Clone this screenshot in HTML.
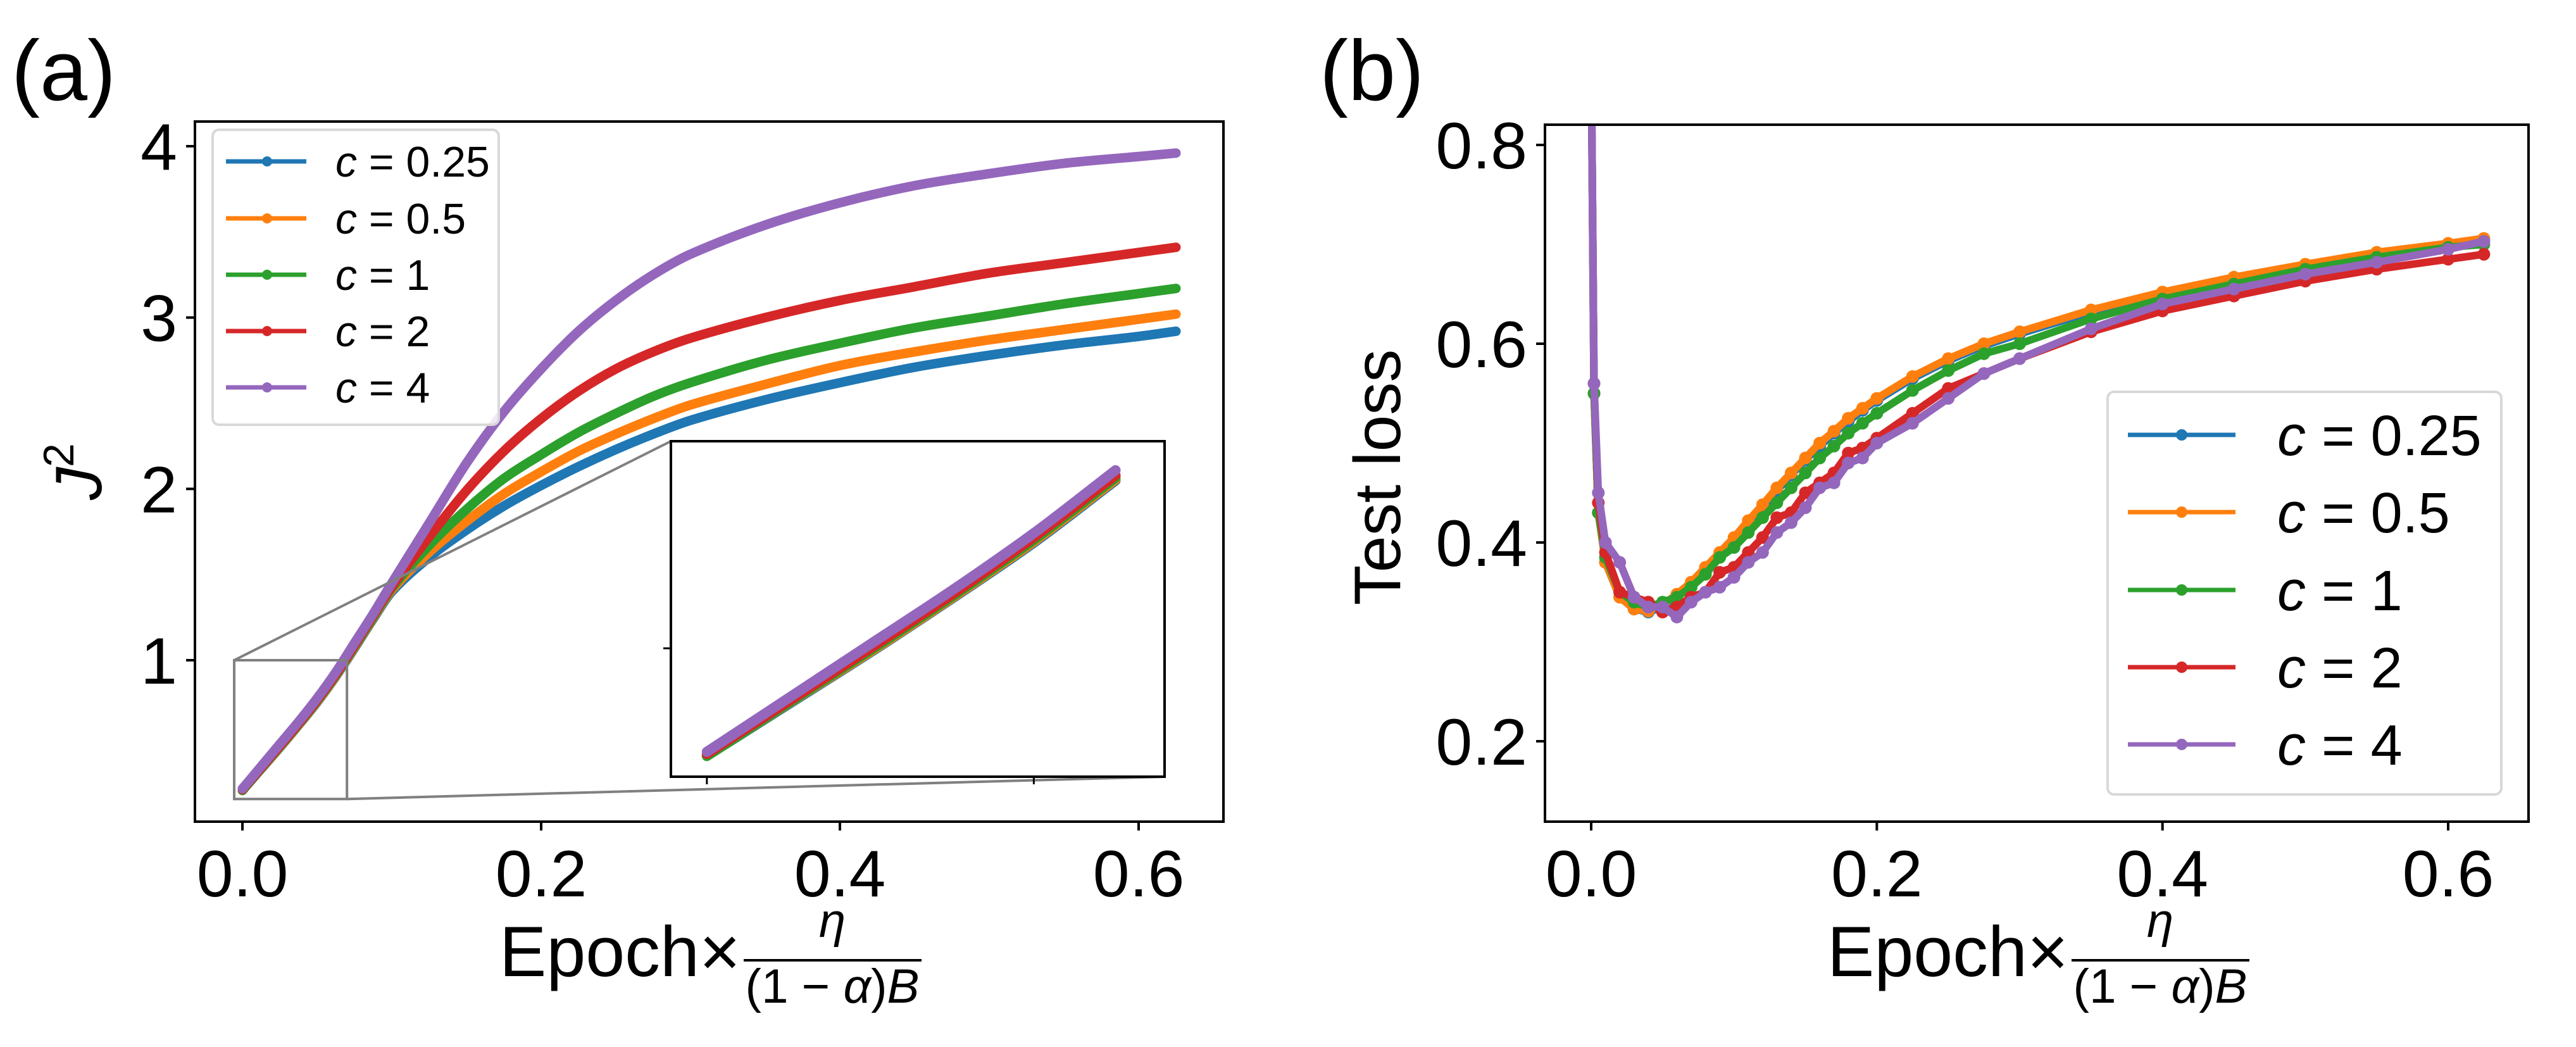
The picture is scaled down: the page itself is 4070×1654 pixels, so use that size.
<!DOCTYPE html>
<html><head><meta charset="utf-8">
<style>
html,body{margin:0;padding:0;background:#fff;}
svg{display:block;}
text{font-family:"Liberation Sans",sans-serif;fill:#000;}
</style></head>
<body>
<svg id="fig" width="4070" height="1654" viewBox="0 0 4070 1654" xmlns="http://www.w3.org/2000/svg">
<defs>
<clipPath id="clipA"><rect x="308" y="192" width="1625" height="1106"/></clipPath>
<clipPath id="clipI"><rect x="1060" y="697" width="780" height="530"/></clipPath>
<clipPath id="clipB"><rect x="2441" y="197" width="1554" height="1101"/></clipPath>
</defs>
<rect width="4070" height="1654" fill="#fff"/>
<text x="18" y="158" font-size="135">(a)</text>
<text x="2085" y="158" font-size="135">(b)</text>
<g id="gA"></g>
<g id="gB"></g>
</svg>
<script>
// ---------- Panel (a) data ----------
const seriesLabels = ["c = 0.25","c = 0.5","c = 1","c = 2","c = 4"];
const seriesNames = ["c-0.25","c-0.5","c-1","c-2","c-4"];
const colors = ["#1f77b4","#ff7f0e","#2ca02c","#d62728","#9467bd"];
const aX = [0,.0125,.025,.0375,.05,.0625,.075,.0875,.1,.125,.15,.175,.2,.225,.25,.275,.3,.35,.4,.45,.5,.55,.6,.625];
const aBlue   = [.24,.365,.49,.62,.755,.905,1.07,1.24,1.40,1.60,1.76,1.90,2.02,2.13,2.23,2.32,2.40,2.52,2.62,2.71,2.78,2.84,2.89,2.92];
const aOrange = [.24,.367,.492,.622,.758,.908,1.075,1.245,1.41,1.63,1.81,1.97,2.10,2.22,2.32,2.41,2.49,2.61,2.72,2.80,2.87,2.93,2.99,3.02];
const aGreen  = [.24,.368,.495,.625,.762,.912,1.08,1.25,1.42,1.67,1.88,2.06,2.20,2.33,2.44,2.54,2.62,2.75,2.85,2.94,3.01,3.08,3.14,3.17];
const aRed    = [.245,.372,.5,.63,.768,.918,1.088,1.26,1.43,1.72,1.99,2.22,2.41,2.57,2.70,2.80,2.88,3.00,3.10,3.18,3.26,3.32,3.38,3.41];
const aPurple = [.25,.38,.51,.64,.778,.93,1.10,1.27,1.45,1.80,2.15,2.45,2.70,2.92,3.10,3.25,3.37,3.54,3.67,3.77,3.84,3.90,3.94,3.96];
const aSeries = [aBlue,aOrange,aGreen,aRed,aPurple];
const aXTicks = [0.0,0.2,0.4,0.6];
const aXTickLabels = ["0.0","0.2","0.4","0.6"];
const aYTicks = [1,2,3,4];
const aYTickLabels = ["1","2","3","4"];
const zoomX = [-0.0055,0.07];
const zoomY = [0.19,1.0];

// ---------- Panel (b) data ----------
const bX = [0,.002,.005,.01,.02,.03,.04,.05,.06,.07,.08,.09,.1,.11,.12,.13,.14,.15,.16,.17,.18,.19,.2,.225,.25,.275,.3,.35,.4,.45,.5,.55,.6,.625];
const bBlue   = [0.9,0.55,0.43,0.38,0.345,0.333,0.33,0.335,0.345,0.357,0.372,0.387,0.402,0.418,0.435,0.452,0.468,0.483,0.497,0.51,0.522,0.533,0.543,0.565,0.583,0.598,0.61,0.632,0.65,0.665,0.678,0.69,0.70,0.705];
const bOrange = [0.9,0.55,0.43,0.38,0.345,0.333,0.331,0.337,0.348,0.36,0.375,0.39,0.405,0.422,0.438,0.455,0.47,0.485,0.50,0.512,0.525,0.535,0.545,0.567,0.585,0.60,0.612,0.634,0.652,0.667,0.68,0.692,0.701,0.706];
const bGreen  = [0.9,0.55,0.43,0.385,0.35,0.34,0.335,0.34,0.345,0.355,0.368,0.385,0.395,0.41,0.425,0.44,0.455,0.47,0.485,0.497,0.51,0.52,0.53,0.553,0.573,0.59,0.60,0.625,0.645,0.66,0.675,0.687,0.697,0.70];
const bRed    = [0.9,0.56,0.44,0.39,0.35,0.345,0.34,0.33,0.335,0.345,0.35,0.37,0.375,0.39,0.405,0.425,0.43,0.45,0.46,0.47,0.49,0.495,0.505,0.53,0.555,0.57,0.585,0.612,0.633,0.648,0.663,0.675,0.685,0.69];
const bPurple = [0.9,0.56,0.45,0.40,0.38,0.345,0.335,0.335,0.325,0.34,0.35,0.355,0.365,0.38,0.39,0.41,0.42,0.435,0.455,0.46,0.48,0.485,0.50,0.52,0.545,0.57,0.585,0.615,0.64,0.655,0.67,0.682,0.695,0.703];
const bSeries = [bBlue,bOrange,bGreen,bRed,bPurple];
const bXTicks = [0.0,0.2,0.4,0.6];
const bXTickLabels = ["0.0","0.2","0.4","0.6"];
const bYTicks = [0.2,0.4,0.6,0.8];
const bYTickLabels = ["0.2","0.4","0.6","0.8"];

const NS = "http://www.w3.org/2000/svg";
function mk(parent, tag, attrs, txt){
  const e = document.createElementNS(NS, tag);
  for (const k in attrs) e.setAttribute(k, attrs[k]);
  if (txt !== undefined) e.textContent = txt;
  parent.appendChild(e);
  return e;
}
function lin(d0,d1,r0,r1){ return v => r0 + (v-d0)/(d1-d0)*(r1-r0); }
// monotone-x cubic using slope tangents (handles non-uniform spacing)
function smoothPath(pts){
  const n = pts.length;
  const m = pts.map((p,i)=>{
    const a = pts[Math.max(0,i-1)], b = pts[Math.min(n-1,i+1)];
    return (b[1]-a[1])/(b[0]-a[0]);
  });
  let d = "M"+pts[0][0]+","+pts[0][1];
  for (let i=0;i<n-1;i++){
    const p1=pts[i], p2=pts[i+1], h=(p2[0]-p1[0])/3;
    d += " C"+(p1[0]+h)+","+(p1[1]+m[i]*h)+" "+(p2[0]-h)+","+(p2[1]-m[i+1]*h)+" "+p2[0]+","+p2[1];
  }
  return d;
}
function xlabel(g, cx){
  const x0 = cx - 331;
  const t = mk(g,"text",{x:x0,y:1542,"font-size":"112",textLength:"381",lengthAdjust:"spacingAndGlyphs"},"Epoch×");
  
  
  const eta = mk(g,"text",{x:x0+526,y:1480,"font-size":"76","font-style":"italic","text-anchor":"middle"},"η");
  
  
  const bar = mk(g,"line",{x1:x0+386,x2:x0+667,y1:1517,y2:1517,stroke:"#000","stroke-width":"4"});
  
  
  const den = mk(g,"text",{x:x0+526,y:1584,"font-size":"76","text-anchor":"middle",textLength:"275",lengthAdjust:"spacingAndGlyphs"});
  
  
  mk(den,"tspan",{},"(1 − ");
  mk(den,"tspan",{"font-style":"italic"},"α");
  mk(den,"tspan",{},")");
  mk(den,"tspan",{"font-style":"italic"},"B");
}

// ================= Panel A =================
(function(){
  const g = document.getElementById("gA");
  const L=308,R=1933,T=192,B=1298;
  const sx = lin(0,0.6,383,1799);
  const sy = lin(1,4,1043,231);
  const cg = mk(g,"g",{"clip-path":"url(#clipA)"});
  aSeries.forEach((ys,si)=>{
    const pts = aX.map((x,i)=>[sx(x),sy(ys[i])]);
    const p = mk(cg,"path",{d:smoothPath(pts),fill:"none",stroke:colors[si],"stroke-width":"15","stroke-linecap":"round","stroke-linejoin":"round"});
    
    
  });
  const zx0=sx(zoomX[0]), zx1=sx(zoomX[1]), zy0=sy(zoomY[1]), zy1=sy(zoomY[0]);
  const zr = mk(g,"rect",{x:zx0,y:zy0,width:zx1-zx0,height:zy1-zy0,fill:"none",stroke:"#808080","stroke-width":"4"});
  
  
  const IL=1060,IR=1840,IT=697,IB=1227;
  const c1 = mk(g,"line",{x1:zx0,y1:zy0,x2:IL,y2:IT,stroke:"#808080","stroke-width":"4"});
  
  
  const c2 = mk(g,"line",{x1:zx1,y1:zy1,x2:IR,y2:IB,stroke:"#808080","stroke-width":"4"});
  
  
  const ig = mk(g,"g",{});
  
  
  mk(ig,"rect",{x:IL,y:IT,width:IR-IL,height:IB-IT,fill:"#fff"});
  const isx = lin(zoomX[0],zoomX[1],IL,IR);
  const isy = lin(zoomY[0],zoomY[1],IB,IT);
  const icg = mk(ig,"g",{"clip-path":"url(#clipI)"});
  aSeries.forEach((ys,si)=>{
    const pts=[];
    aX.forEach((x,i)=>{ if(x<=0.0625) pts.push([isx(x),isy(ys[i])]); });
    const p = mk(icg,"path",{d:smoothPath(pts),fill:"none",stroke:colors[si],"stroke-width":"16","stroke-linecap":"round"});
    
    
  });
  mk(ig,"rect",{x:IL,y:IT,width:IR-IL,height:IB-IT,fill:"none",stroke:"#000","stroke-width":"4"});
  [0,0.05].forEach(v=>{ mk(ig,"line",{x1:isx(v),x2:isx(v),y1:IB,y2:IB+12,stroke:"#000","stroke-width":"3"}); });
  mk(ig,"line",{x1:IL-12,x2:IL,y1:isy(0.5),y2:isy(0.5),stroke:"#000","stroke-width":"3"});
  const fr = mk(g,"rect",{x:L,y:T,width:R-L,height:B-T,fill:"none",stroke:"#000","stroke-width":"4"});
  
  
  aXTicks.forEach((v,i)=>{
    mk(g,"line",{x1:sx(v),x2:sx(v),y1:B,y2:B+14,stroke:"#000","stroke-width":"4"});
    const t = mk(g,"text",{x:sx(v),y:B+118,"font-size":"104","text-anchor":"middle"},aXTickLabels[i]);
    
    
  });
  aYTicks.forEach((v,i)=>{
    mk(g,"line",{x1:L-14,x2:L,y1:sy(v),y2:sy(v),stroke:"#000","stroke-width":"4"});
    const t = mk(g,"text",{x:L-28,y:sy(v)+37,"font-size":"104","text-anchor":"end"},aYTickLabels[i]);
    
    
  });
  const yl = mk(g,"text",{x:0,y:0,"font-size":"104",transform:"translate(160,790) rotate(-90)"});
  
  
  mk(yl,"tspan",{"font-style":"italic"},"J");
  mk(yl,"tspan",{"font-size":"68",dy:"-44"},"2");
  xlabel(g,1120);
  const lg = mk(g,"g",{});
  
  
  mk(lg,"rect",{x:336,y:205,width:452,height:466,rx:10,fill:"#fff","fill-opacity":"0.85",stroke:"#d8d8d8","stroke-width":"4"});
  const ly=[255,345,434,523,612];
  seriesLabels.forEach((lab,i)=>{
    const e = mk(lg,"g",{});
    
    
    mk(e,"line",{x1:357,x2:484,y1:ly[i],y2:ly[i],stroke:colors[i],"stroke-width":"7"});
    mk(e,"circle",{cx:422,cy:ly[i],r:8,fill:colors[i]});
    const t = mk(e,"text",{x:530,y:ly[i]+24,"font-size":"68"});
    mk(t,"tspan",{"font-style":"italic"},"c");
    mk(t,"tspan",{}," = "+lab.slice(4));
  });
})();

// ================= Panel B =================
(function(){
  const g = document.getElementById("gB");
  const L=2441,R=3995,T=197,B=1298;
  const sx = lin(0,0.6,2514,3868);
  const sy = lin(0.2,0.8,1171,229);
  const cg = mk(g,"g",{"clip-path":"url(#clipB)"});
  bSeries.forEach((ys,si)=>{
    const sg = mk(cg,"g",{});
    
    
    const pts = bX.map((x,i)=>sx(x)+","+sy(ys[i])).join(" ");
    mk(sg,"polyline",{points:pts,fill:"none",stroke:colors[si],"stroke-width":"12","stroke-linejoin":"round"});
    bX.forEach((x,i)=>{
      const c = mk(sg,"circle",{cx:sx(x),cy:sy(ys[i]),r:10,fill:colors[si]});
      
      
    });
  });
  const fr = mk(g,"rect",{x:L,y:T,width:R-L,height:B-T,fill:"none",stroke:"#000","stroke-width":"4"});
  
  
  bXTicks.forEach((v,i)=>{
    mk(g,"line",{x1:sx(v),x2:sx(v),y1:B,y2:B+14,stroke:"#000","stroke-width":"4"});
    const t = mk(g,"text",{x:sx(v),y:B+118,"font-size":"104","text-anchor":"middle"},bXTickLabels[i]);
    
    
  });
  bYTicks.forEach((v,i)=>{
    mk(g,"line",{x1:L-14,x2:L,y1:sy(v),y2:sy(v),stroke:"#000","stroke-width":"4"});
    const t = mk(g,"text",{x:L-28,y:sy(v)+37,"font-size":"104","text-anchor":"end"},bYTickLabels[i]);
    
    
  });
  const yl = mk(g,"text",{x:0,y:0,"font-size":"104","text-anchor":"middle",transform:"translate(2212,754) rotate(-90)"},"Test loss");
  
  
  xlabel(g,3218);
  const lg = mk(g,"g",{});
  
  
  mk(lg,"rect",{x:3330,y:619,width:622,height:636,rx:10,fill:"#fff","fill-opacity":"0.85",stroke:"#d8d8d8","stroke-width":"4"});
  const ly=[687,809,932,1054,1176];
  seriesLabels.forEach((lab,i)=>{
    const e = mk(lg,"g",{});
    
    
    mk(e,"line",{x1:3362,x2:3532,y1:ly[i],y2:ly[i],stroke:colors[i],"stroke-width":"7"});
    mk(e,"circle",{cx:3447,cy:ly[i],r:9,fill:colors[i]});
    const t = mk(e,"text",{x:3598,y:ly[i]+32,"font-size":"90"});
    mk(t,"tspan",{"font-style":"italic"},"c");
    mk(t,"tspan",{}," = "+lab.slice(4));
  });
})();
</script>
</body></html>
